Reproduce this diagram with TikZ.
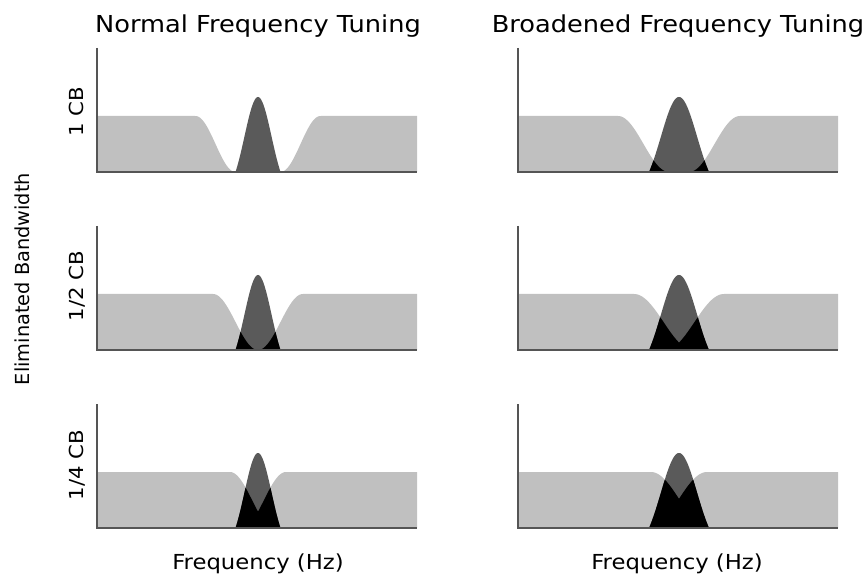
\documentclass[tikz,border=0pt]{standalone}
\usepackage{fontspec}
\setmainfont{DejaVu Sans}
\newfontfamily\widesans[FakeStretch=1.1]{DejaVu Sans}
\begin{document}
\begin{tikzpicture}[x=0.75pt,y=0.75pt]
\useasboundingbox (0,0) rectangle (866,575);
\definecolor{noisegray}{HTML}{C0C0C0}
\definecolor{filtergray}{HTML}{5A5A5A}
\definecolor{axisgray}{HTML}{555555}
\tikzset{
  noise/.style={fill=noisegray, draw=none},
  filterfill/.style={fill=filtergray, draw=none},
  overlap/.style={fill=black, draw=none},
  axisline/.style={draw=axisgray, line width=0.8pt},
  title/.style={font=\widesans\fontsize{17.5}{20}\selectfont, inner sep=0pt, anchor=base},
  rowlabel/.style={font=\widesans\fontsize{14.5}{17}\selectfont, rotate=90, inner sep=0pt, anchor=base},
  axislabel/.style={font=\fontsize{14.5}{17}\selectfont, rotate=90, inner sep=0pt, anchor=base},
  xlabel/.style={font=\widesans\fontsize{15.5}{18}\selectfont, inner sep=0pt, anchor=base},
}
% One panel: #1 left x, #2 baseline y, #3 start of notch ramp, #4 ramp width,
% #5 half-base of the filter. Notch and filter are centred 161 units in.
\newcommand\tuningpanel[5]{%
  \begin{scope}[shift={(#1,#2)}]
    % masking noise with a spectral notch
    \fill[noise] (0,0) -- plot[domain=0:320, samples=321]
      (\x, {56*(1-cos(180*min(1,max(0,(abs(\x-161)-(#3))/(#4)))))/2}) -- (320,0) -- cycle;
    % auditory filter
    \fill[filterfill] plot[domain={161-(#5)}:{161+(#5)}, samples=121]
      (\x, {75*(exp(-(\x-161)*(\x-161)/(2*0.36*(#5)*(#5)))-0.2494)/0.7506}) -- cycle;
    % part of the filter that passes noise
    \fill[overlap] plot[domain={161-(#5)}:{161+(#5)}, samples=121]
      (\x, {min(56*(1-cos(180*min(1,max(0,(abs(\x-161)-(#3))/(#4)))))/2,
                75*(exp(-(\x-161)*(\x-161)/(2*0.36*(#5)*(#5)))-0.2494)/0.7506)}) -- cycle;
    % axes
    \draw[axisline] (0,124) -- (0,0) -- (320,0);
  \end{scope}}

% normal tuning
\tuningpanel{97}{403}{22.5}{40}{22.5}
\tuningpanel{97}{225}{0}{45}{22.5}
\tuningpanel{97}{47}{-16}{44}{22.5}
% broadened tuning
\tuningpanel{518}{403}{10}{51}{30}
\tuningpanel{518}{225}{-14}{59}{30}
\tuningpanel{518}{47}{-29.5}{57.5}{30}

\node[title] (tnormal) at (258,542) {Normal Frequency Tuning};
\node[title] (tbroad) at (678,542) {Broadened Frequency Tuning};

\node[rowlabel] (r1) at (83,463) {1 CB};
\node[rowlabel] (r2) at (83,289) {1/2 CB};
\node[rowlabel] (r3) at (83,110) {1/4 CB};
\node[axislabel] (ylab) at (29,296) {Eliminated Bandwidth};

\node[xlabel] (xl) at (258,6) {Frequency (Hz)};
\node[xlabel] (xr) at (677,6) {Frequency (Hz)};
\end{tikzpicture}
\end{document}
